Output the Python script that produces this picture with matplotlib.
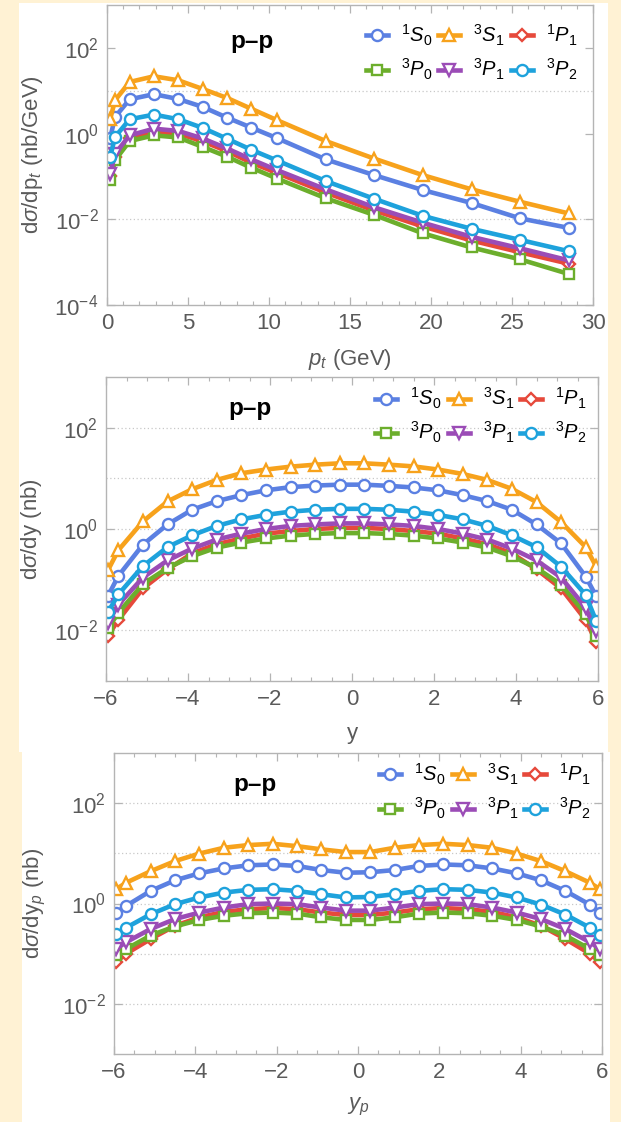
import matplotlib
matplotlib.use("Agg")
import matplotlib.pyplot as plt
import matplotlib.ticker as mticker
from matplotlib.patches import Rectangle

plt.rcParams["font.family"] = ["Liberation Sans", "DejaVu Sans"]
plt.rcParams["mathtext.fontset"] = "custom"
plt.rcParams["mathtext.rm"] = "Liberation Sans"
plt.rcParams["mathtext.it"] = "Liberation Sans:italic"
plt.rcParams["mathtext.bf"] = "Liberation Sans:bold"

CREAM = "#fff2d4"
FRAME = "#b4b4b4"
TEXT = "#5a5a5a"

# channel order, labels, colours, markers
channels = ["1S0", "3S1", "1P1", "3P0", "3P1", "3P2"]
labels = [r"$^1S_0$", r"$^3S_1$", r"$^1P_1$", r"$^3P_0$", r"$^3P_1$", r"$^3P_2$"]
colors = ["#5b80e2", "#f7a21c", "#e6493b", "#6cae2c", "#9b4cb6", "#1ea2dc"]
markers = ["o", "^", "D", "s", "v", "o"]
msizes = [8.0, 9.0, 6.3, 7.5, 9.0, 8.0]

# --- transverse momentum distribution (nb/GeV)
pt = [0.2, 0.5, 1.4, 2.9, 4.4, 5.9, 7.4, 8.9, 10.5, 13.5, 16.5, 19.5, 22.5, 25.5, 28.5]
pt_1S0 = [0.8, 2.45, 6.3, 8.3, 6.4, 4.2, 2.36, 1.38, 0.78, 0.25, 0.107, 0.048, 0.024, 0.0105, 0.0063]
pt_3S1 = [2.2, 6.0, 16.0, 21.7, 17.5, 11.0, 6.8, 3.8, 2.05, 0.67, 0.26, 0.107, 0.050, 0.0256, 0.0137]
pt_1P1 = [0.10, 0.29, 0.80, 1.10, 1.00, 0.66, 0.39, 0.21, 0.12, 0.042, 0.016, 0.0068, 0.0032, 0.0017, 0.00092]
pt_3P0 = [0.082, 0.24, 0.67, 0.91, 0.81, 0.49, 0.29, 0.16, 0.089, 0.031, 0.0126, 0.0047, 0.0022, 0.00116, 0.00053]
pt_3P1 = [0.117, 0.34, 0.91, 1.30, 1.15, 0.77, 0.45, 0.25, 0.14, 0.050, 0.019, 0.0083, 0.0039, 0.0021, 0.0011]
pt_3P2 = [0.29, 0.84, 2.16, 2.77, 2.16, 1.36, 0.76, 0.42, 0.235, 0.078, 0.030, 0.012, 0.0060, 0.0033, 0.0018]

# --- rapidity bins (shared by y and y_p panels)
rap = [-5.95, -5.7, -5.1, -4.5, -3.9, -3.3, -2.7, -2.1, -1.5, -0.9, -0.3,
       0.3, 0.9, 1.5, 2.1, 2.7, 3.3, 3.9, 4.5, 5.1, 5.7, 5.95]

y_1S0 = [0.048, 0.118, 0.49, 1.23, 2.4, 3.55, 4.65, 5.8, 6.7, 7.2, 7.5,
         7.5, 7.1, 6.6, 5.8, 4.65, 3.55, 2.4, 1.23, 0.52, 0.115, 0.048]
y_3S1 = [0.155, 0.38, 1.41, 3.5, 6.1, 9.3, 12.6, 14.9, 17.0, 18.6, 19.8,
         19.8, 18.6, 17.2, 14.9, 12.2, 9.3, 6.2, 3.4, 1.37, 0.44, 0.185]
y_1P1 = [0.0078, 0.016, 0.067, 0.16, 0.33, 0.50, 0.65, 0.81, 0.91, 1.0, 1.05,
         1.05, 1.0, 0.91, 0.81, 0.65, 0.50, 0.33, 0.16, 0.067, 0.016, 0.006]
y_3P0 = [0.011, 0.022, 0.082, 0.17, 0.29, 0.43, 0.54, 0.65, 0.74, 0.80, 0.83,
         0.83, 0.80, 0.74, 0.65, 0.54, 0.43, 0.29, 0.17, 0.080, 0.021, 0.0076]
y_3P1 = [0.0142, 0.032, 0.11, 0.24, 0.41, 0.62, 0.81, 1.0, 1.15, 1.23, 1.29,
         1.29, 1.23, 1.15, 1.0, 0.81, 0.62, 0.41, 0.24, 0.11, 0.028, 0.0095]
y_3P2 = [0.023, 0.051, 0.185, 0.44, 0.75, 1.15, 1.55, 1.9, 2.2, 2.4, 2.5,
         2.5, 2.4, 2.2, 1.9, 1.55, 1.15, 0.75, 0.44, 0.18, 0.05, 0.0156]

yp_1S0 = [0.66, 0.9, 1.78, 2.9, 4.0, 5.0, 5.77, 6.0, 5.6, 4.65, 4.1,
          4.2, 4.65, 5.6, 6.0, 5.77, 5.0, 4.0, 2.9, 1.78, 0.95, 0.66]
yp_3S1 = [1.93, 2.6, 4.4, 7.0, 9.9, 12.9, 14.6, 15.5, 13.9, 12.0, 10.6,
          10.6, 12.9, 14.6, 15.5, 14.6, 12.9, 9.9, 7.0, 4.4, 2.6, 1.93]
yp_1P1 = [0.068, 0.10, 0.196, 0.36, 0.53, 0.68, 0.77, 0.81, 0.77, 0.66, 0.59,
          0.59, 0.66, 0.77, 0.81, 0.77, 0.68, 0.53, 0.36, 0.196, 0.10, 0.068]
yp_3P0 = [0.092, 0.124, 0.23, 0.35, 0.47, 0.57, 0.64, 0.66, 0.63, 0.53, 0.47,
          0.47, 0.53, 0.63, 0.66, 0.64, 0.57, 0.47, 0.35, 0.23, 0.124, 0.092]
yp_3P1 = [0.124, 0.17, 0.31, 0.49, 0.66, 0.83, 0.97, 1.0, 0.97, 0.83, 0.72,
          0.72, 0.83, 0.97, 1.0, 0.97, 0.83, 0.66, 0.49, 0.31, 0.17, 0.124]
yp_3P2 = [0.25, 0.33, 0.61, 0.97, 1.32, 1.65, 1.87, 1.93, 1.78, 1.53, 1.32,
          1.35, 1.53, 1.78, 1.93, 1.87, 1.65, 1.32, 0.95, 0.60, 0.33, 0.24]

W, H = 621, 1122


def fig_rect(x0, y0, x1, y1):
    # pixel box (top-left origin) -> figure fraction rect
    return [x0 / W, 1 - y1 / H, (x1 - x0) / W, (y1 - y0) / H]


def draw_panel(ax, x, series, xlim, ylim, xmajor, xminor, yticks, grid_y,
               xlabel, ylabel, tag_pos, leg_pos, ylabel_x):
    for s, lab, c, m, ms in zip(series, labels, colors, markers, msizes):
        ax.plot(x, s, color=c, lw=3.3, marker=m, ms=ms, mfc="white",
                mec=c, mew=1.7, label=lab, solid_joinstyle="round")
    ax.set_yscale("log")
    ax.set_xlim(*xlim)
    ax.set_ylim(*ylim)
    for g in grid_y:
        ax.axhline(g, color="#c8c8c8", lw=0.9, ls=(0, (1, 2)), zorder=0)
    ax.xaxis.set_major_locator(mticker.MultipleLocator(xmajor))
    ax.xaxis.set_minor_locator(mticker.MultipleLocator(xminor))
    ax.yaxis.set_major_locator(mticker.FixedLocator(yticks))
    ax.yaxis.set_major_formatter(mticker.LogFormatterMathtext())
    ax.yaxis.set_minor_locator(mticker.NullLocator())
    ax.tick_params(which="both", direction="in", top=True, right=True,
                   color=FRAME, labelcolor=TEXT, labelsize=16)
    ax.tick_params(which="major", length=6, width=0.9, pad=6)
    ax.tick_params(which="minor", length=3, width=0.8)
    for sp in ax.spines.values():
        sp.set_color(FRAME)
        sp.set_linewidth(1.0)
    ax.set_xlabel(xlabel, fontsize=16, color=TEXT, labelpad=9)
    ax.set_ylabel(ylabel, fontsize=16, color=TEXT)
    ax.yaxis.set_label_coords(ylabel_x, 0.5)
    ax.text(tag_pos[0], tag_pos[1], "p–p", transform=ax.transAxes,
            fontsize=17.5, fontweight="bold", color="black",
            ha="center", va="center")
    h, l = ax.get_legend_handles_labels()
    order = [0, 3, 1, 4, 2, 5]
    ax.legend([h[i] for i in order], [l[i] for i in order], ncol=3,
              loc="center", bbox_to_anchor=leg_pos, frameon=False,
              fontsize=14.5, handlelength=1.1, handletextpad=0.65,
              columnspacing=0.3, labelspacing=0.45, borderpad=0.2)


fig = plt.figure(figsize=(W / 100, H / 100), dpi=100)
fig.set_facecolor(CREAM)

# white paper behind the panels
r1 = fig_rect(19, 3, 608, 752)
r2 = fig_rect(22, 752, 610, 1122)
for r in (r1, r2):
    fig.add_artist(Rectangle((r[0], r[1]), r[2], r[3], transform=fig.transFigure,
                             facecolor="white", edgecolor="none", zorder=-10))

ax1 = fig.add_axes(fig_rect(107, 5, 593, 305))
ax2 = fig.add_axes(fig_rect(106, 377, 598, 681))
ax3 = fig.add_axes(fig_rect(114, 753, 602, 1054))

draw_panel(ax1, pt, [pt_1S0, pt_3S1, pt_1P1, pt_3P0, pt_3P1, pt_3P2],
           (0, 30), (1e-4, 1e3), 5, 1, [1e-4, 1e-2, 1e0, 1e2], [10, 1e-2],
           r"$p_t$ (GeV)", r"d$\sigma$/dp$_t$ (nb/GeV)",
           (0.298, 0.877), (0.75, 0.842), -0.128)
draw_panel(ax2, rap, [y_1S0, y_3S1, y_1P1, y_3P0, y_3P1, y_3P2],
           (-6, 6), (1e-3, 1e3), 2, 0.5, [1e-2, 1e0, 1e2],
           [1e2, 1e1, 1e0, 1e-1, 1e-2],
           "y", r"d$\sigma$/dy (nb)",
           (0.292, 0.895), (0.762, 0.873), -0.125)
draw_panel(ax3, rap, [yp_1S0, yp_3S1, yp_1P1, yp_3P0, yp_3P1, yp_3P2],
           (-6, 6), (1e-3, 1e3), 2, 0.5, [1e-2, 1e0, 1e2],
           [1e2, 1e1, 1e0, 1e-1, 1e-2],
           r"$y_p$", r"d$\sigma$/dy$_p$ (nb)",
           (0.289, 0.894), (0.760, 0.872), -0.136)

fig.savefig("out.png", dpi=100, facecolor=fig.get_facecolor())
